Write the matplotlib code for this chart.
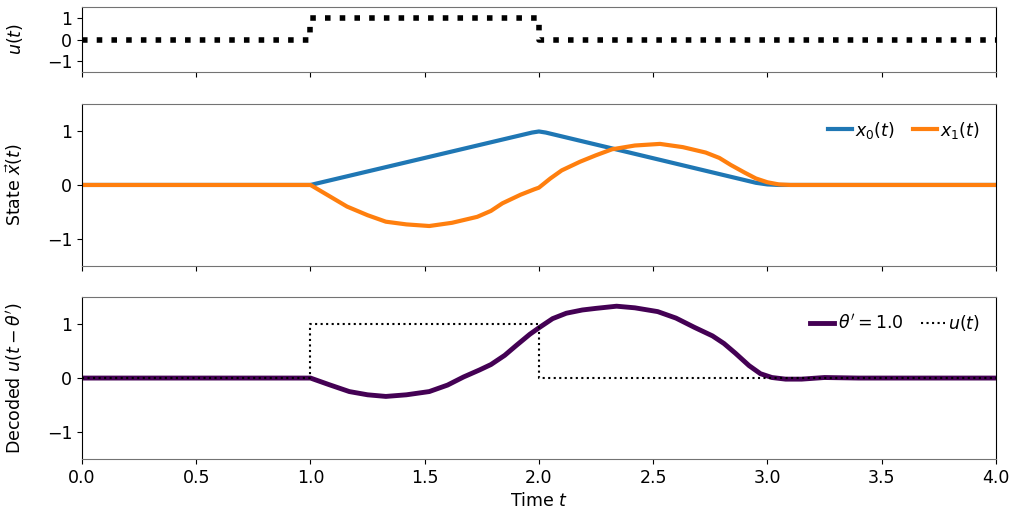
#!/usr/bin/env python3
# -*- coding: utf-8 -*-

import numpy as np
import matplotlib
matplotlib.use("Agg")
import matplotlib.pyplot as plt

plt.rcParams['font.size'] = 12.5
plt.rcParams['mathtext.fontset'] = 'dejavusans'

# 入力 u(t) (ステップ)
u_t = [0.0, 1.0, 1.0, 2.0, 2.0, 4.0]
u_val = [0.0, 0.0, 1.0, 1.0, 0.0, 0.0]

# 状態 x0(t)
x0_t = [0.0, 1.0, 1.97, 2.0, 2.03, 2.95, 3.0, 3.05, 4.0]
x0_val = [0.0, 0.0, 0.97, 0.99, 0.97, 0.04, 0.01, 0.0, 0.0]

# 状態 x1(t)
x1_t = [0.0, 1.0, 1.08, 1.16, 1.25, 1.33, 1.42, 1.52, 1.62, 1.73, 1.79, 1.84,
        1.92, 1.98, 2.0, 2.05, 2.1, 2.18, 2.25, 2.32, 2.42, 2.53, 2.63, 2.73,
        2.79, 2.84, 2.9, 2.95, 3.0, 3.05, 3.1, 4.0]
x1_val = [0.0, 0.0, -0.2, -0.40, -0.56, -0.68, -0.73, -0.76, -0.70, -0.59, -0.48, -0.34,
          -0.18, -0.08, -0.05, 0.12, 0.27, 0.43, 0.55, 0.66, 0.73, 0.76, 0.70, 0.60,
          0.50, 0.37, 0.23, 0.12, 0.05, 0.01, 0.0, 0.0]

# デコード結果 u(t - θ')
dec_t = [0.0, 1.0, 1.08, 1.17, 1.25, 1.33, 1.42, 1.52, 1.6, 1.67, 1.74, 1.79, 1.85,
         1.9, 1.96, 2.0, 2.06, 2.12, 2.19, 2.25, 2.34, 2.42, 2.52, 2.6, 2.68, 2.76,
         2.81, 2.86, 2.92, 2.97, 3.02, 3.08, 3.15, 3.25, 3.4, 4.0]
dec_val = [0.0, 0.0, -0.12, -0.25, -0.31, -0.34, -0.31, -0.25, -0.13, 0.02, 0.15, 0.25, 0.42,
           0.60, 0.81, 0.93, 1.10, 1.20, 1.26, 1.29, 1.33, 1.30, 1.23, 1.11, 0.94, 0.78,
           0.64, 0.46, 0.23, 0.08, 0.01, -0.02, -0.02, 0.01, 0.0, 0.0]

x_ticks = [0.0, 0.5, 1.0, 1.5, 2.0, 2.5, 3.0, 3.5, 4.0]


def style_axes(ax):
    ax.set_xlim(0, 4)
    ax.set_ylim(-1.5, 1.5)
    ax.set_yticks([-1, 0, 1])
    ax.set_xticks(x_ticks)
    ax.spines['top'].set_color('0.45')
    ax.spines['bottom'].set_color('0.45')
    ax.yaxis.set_label_coords(-0.062, 0.5)


fig = plt.figure(figsize=(10.13, 5.17), dpi=100)
ax_u = fig.add_axes([0.081, 0.861, 0.902, 0.125])
ax_x = fig.add_axes([0.081, 0.4855, 0.902, 0.3135])
ax_d = fig.add_axes([0.081, 0.112, 0.902, 0.3135])

leg_kw = dict(loc="upper right", ncol=2, frameon=False, handlelength=1.4,
              handletextpad=0.2, columnspacing=1.0)

# 入力
ax_u.plot(u_t, u_val, color="black", linestyle=":", linewidth=4)
style_axes(ax_u)
ax_u.set_xticklabels([])
ax_u.set_ylabel("$u(t)$")

# 状態
ax_x.plot(x0_t, x0_val, color="#1f77b4", linewidth=3, label="$x_0(t)$")
ax_x.plot(x1_t, x1_val, color="#ff7f0e", linewidth=3, label="$x_1(t)$")
style_axes(ax_x)
ax_x.set_xticklabels([])
ax_x.set_ylabel(r"State $\vec{x}(t)$")
ax_x.legend(**leg_kw)

# デコード
ax_d.plot(dec_t, dec_val, color="#440154", linewidth=3.5, label=r"$\theta' = 1.0$")
ax_d.plot(u_t, u_val, color="black", linestyle=":", linewidth=1.5, label="$u(t)$")
style_axes(ax_d)
ax_d.set_ylabel(r"Decoded $u(t - \theta')$")
ax_d.set_xlabel("Time $t$")
ax_d.legend(**leg_kw)

fig.savefig("out.png", dpi=100)
